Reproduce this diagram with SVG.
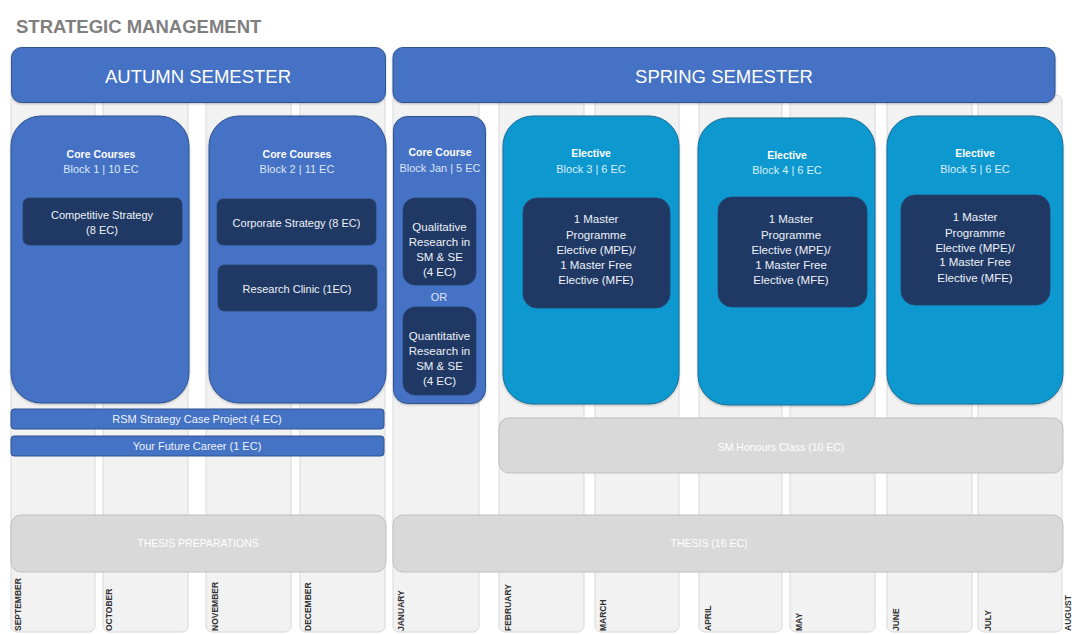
<svg xmlns="http://www.w3.org/2000/svg" width="1072" height="634" viewBox="0 0 1072 634">
<defs>
<filter id="sh" x="-5%" y="-5%" width="110%" height="115%"><feDropShadow dx="0" dy="1" stdDeviation="1" flood-color="#000" flood-opacity="0.25"/></filter>
</defs>
<style>
text{font-family:"Liberation Sans",Arial,sans-serif}
.col{fill:#f2f2f2;stroke:#d9d9d9;stroke-width:1}
.mon{font-size:8.5px;font-weight:bold;fill:#333333}
.hdr{fill:#4472c4;stroke:#2f528f;stroke-width:1}
.hdrt{font-size:18.5px;fill:#fff;text-anchor:middle}
.core{fill:#4472c4;stroke:#2f528f;stroke-width:1}
.elec{fill:#0a98cf;stroke:#1b6f96;stroke-width:1}
.inner{fill:#1f3864;stroke:#2a4470;stroke-width:0.8}
.ttl{font-size:10.5px;font-weight:bold;fill:#fff;text-anchor:middle}
.blk{font-size:11px;fill:#dbe5f6;text-anchor:middle}
.blkc{font-size:11px;fill:#dcf0fa;text-anchor:middle}
.it{font-size:11px;fill:#eef2f8;text-anchor:middle}
.it2{font-size:11.5px;fill:#eef2f8;text-anchor:middle}
.bar{fill:#4472c4;stroke:#2f528f;stroke-width:1}
.bart{font-size:11px;fill:#eef2fa;text-anchor:middle}
.gray{fill:#d9d9d9;stroke:#bfbfbf;stroke-width:1}
.grayt{font-size:10.5px;fill:#ffffff;text-anchor:middle}
</style>
<rect width="1072" height="634" fill="#fff"/>
<g id="months">
<rect class="col" x="11" y="95" width="84" height="537" rx="6"/>
<rect class="col" x="103" y="95" width="85" height="537" rx="6"/>
<rect class="col" x="206" y="95" width="85" height="537" rx="6"/>
<rect class="col" x="300" y="95" width="85" height="537" rx="6"/>
<rect class="col" x="393" y="95" width="86" height="537" rx="6"/>
<rect class="col" x="499" y="95" width="85" height="537" rx="6"/>
<rect class="col" x="595" y="95" width="84" height="537" rx="6"/>
<rect class="col" x="699" y="95" width="83" height="537" rx="6"/>
<rect class="col" x="790" y="95" width="85" height="537" rx="6"/>
<rect class="col" x="887" y="95" width="85" height="537" rx="6"/>
<rect class="col" x="978" y="95" width="84" height="537" rx="6"/>
<text class="mon" transform="translate(21,631) rotate(-90)">SEPTEMBER</text>
<text class="mon" transform="translate(111.5,631) rotate(-90)">OCTOBER</text>
<text class="mon" transform="translate(217.5,631) rotate(-90)">NOVEMBER</text>
<text class="mon" transform="translate(311,631) rotate(-90)">DECEMBER</text>
<text class="mon" transform="translate(403.5,631) rotate(-90)">JANUARY</text>
<text class="mon" transform="translate(510.5,631) rotate(-90)">FEBRUARY</text>
<text class="mon" transform="translate(606,631) rotate(-90)">MARCH</text>
<text class="mon" transform="translate(710.5,631) rotate(-90)">APRIL</text>
<text class="mon" transform="translate(802,631) rotate(-90)">MAY</text>
<text class="mon" transform="translate(899,631) rotate(-90)">JUNE</text>
<text class="mon" transform="translate(990.5,631) rotate(-90)">JULY</text>
<text class="mon" transform="translate(1071,631) rotate(-90)">AUGUST</text>
</g>
<text x="16" y="33" font-size="18.5" font-weight="bold" fill="#7f7f7f">STRATEGIC MANAGEMENT</text>
<g id="autumn-header">
<rect class="hdr" x="11.5" y="47.5" width="374" height="55" rx="10" filter="url(#sh)"/>
<text class="hdrt" x="198" y="83">AUTUMN SEMESTER</text>
</g>
<g id="spring-header">
<rect class="hdr" x="393" y="47.5" width="662" height="55" rx="10" filter="url(#sh)"/>
<text class="hdrt" x="724" y="83">SPRING SEMESTER</text>
</g>
<g id="block1">
<rect class="core" x="11" y="116" width="178" height="287" rx="30" filter="url(#sh)"/>
<text class="ttl" x="101" y="158">Core Courses</text>
<text class="blk" x="101" y="172.5">Block 1 | 10 EC</text>
<rect class="inner" x="23" y="198" width="159" height="47" rx="6"/>
<text class="it" x="102" y="218.5">Competitive Strategy</text>
<text class="it" x="102" y="234">(8 EC)</text>
</g>
<g id="block2">
<rect class="core" x="209" y="116" width="177" height="287" rx="30" filter="url(#sh)"/>
<text class="ttl" x="297" y="158">Core Courses</text>
<text class="blk" x="297" y="172.5">Block 2 | 11 EC</text>
<rect class="inner" x="217" y="199" width="159" height="46" rx="6"/>
<text class="it" x="296.5" y="226.5">Corporate Strategy (8 EC)</text>
<rect class="inner" x="218" y="265" width="159" height="46" rx="6"/>
<text class="it" x="297" y="293">Research Clinic (1EC)</text>
</g>
<g id="block-jan">
<rect class="core" x="393.5" y="116.5" width="92" height="287" rx="14" filter="url(#sh)"/>
<text class="ttl" x="440" y="155.5">Core Course</text>
<text class="blk" x="440" y="171.5">Block Jan | 5 EC</text>
<rect class="inner" x="403" y="198" width="73" height="87" rx="12"/>
<text class="it2" x="439.5" y="231">Qualitative</text>
<text class="it2" x="439.5" y="246">Research in</text>
<text class="it2" x="439.5" y="261">SM &amp; SE</text>
<text class="it2" x="439.5" y="276">(4 EC)</text>
<text class="blk" x="439" y="301">OR</text>
<rect class="inner" x="403" y="307" width="73" height="88" rx="12"/>
<text class="it2" x="439.5" y="339.5">Quantitative</text>
<text class="it2" x="439.5" y="354.5">Research in</text>
<text class="it2" x="439.5" y="369.5">SM &amp; SE</text>
<text class="it2" x="439.5" y="384.5">(4 EC)</text>
</g>
<g id="block3">
<rect class="elec" x="503" y="116" width="176" height="288" rx="30" filter="url(#sh)"/>
<text class="ttl" x="591" y="157">Elective</text>
<text class="blkc" x="591" y="172.5">Block 3 | 6 EC</text>
<rect class="inner" x="523" y="198" width="147" height="110" rx="14"/>
<text class="it2" x="596" y="223">1 Master</text>
<text class="it2" x="596" y="238.5">Programme</text>
<text class="it2" x="596" y="253.5">Elective (MPE)/</text>
<text class="it2" x="596" y="268.5">1 Master Free</text>
<text class="it2" x="596" y="284">Elective (MFE)</text>
</g>
<g id="block4">
<rect class="elec" x="698" y="118" width="177" height="287" rx="30" filter="url(#sh)"/>
<text class="ttl" x="787" y="158.5">Elective</text>
<text class="blkc" x="787" y="174">Block 4 | 6 EC</text>
<rect class="inner" x="718" y="197" width="149" height="110" rx="14"/>
<text class="it2" x="791" y="223">1 Master</text>
<text class="it2" x="791" y="238.5">Programme</text>
<text class="it2" x="791" y="253.5">Elective (MPE)/</text>
<text class="it2" x="791" y="268.5">1 Master Free</text>
<text class="it2" x="791" y="284">Elective (MFE)</text>
</g>
<g id="block5">
<rect class="elec" x="887" y="116" width="176" height="288" rx="30" filter="url(#sh)"/>
<text class="ttl" x="975" y="157">Elective</text>
<text class="blkc" x="975" y="172.5">Block 5 | 6 EC</text>
<rect class="inner" x="901" y="195" width="149" height="110" rx="14"/>
<text class="it2" x="975" y="221">1 Master</text>
<text class="it2" x="975" y="236.5">Programme</text>
<text class="it2" x="975" y="251.5">Elective (MPE)/</text>
<text class="it2" x="975" y="266">1 Master Free</text>
<text class="it2" x="975" y="282">Elective (MFE)</text>
</g>
<g id="rsm-case">
<rect class="bar" x="11" y="409" width="373" height="20" rx="3"/>
<text class="bart" x="197" y="423">RSM Strategy Case Project (4 EC)</text>
</g>
<g id="future-career">
<rect class="bar" x="11" y="436" width="373" height="20" rx="3"/>
<text class="bart" x="197" y="450">Your Future Career (1 EC)</text>
</g>
<g id="honours">
<rect class="gray" x="499" y="418" width="564" height="55" rx="10"/>
<text class="grayt" x="781" y="450.5">SM Honours Class (10 EC)</text>
</g>
<g id="thesis-prep">
<rect class="gray" x="11" y="515" width="375" height="57" rx="10"/>
<text class="grayt" x="198" y="547">THESIS PREPARATIONS</text>
</g>
<g id="thesis">
<rect class="gray" x="393" y="515" width="670" height="57" rx="10"/>
<text class="grayt" x="709" y="547">THESIS (16 EC)</text>
</g>
</svg>
